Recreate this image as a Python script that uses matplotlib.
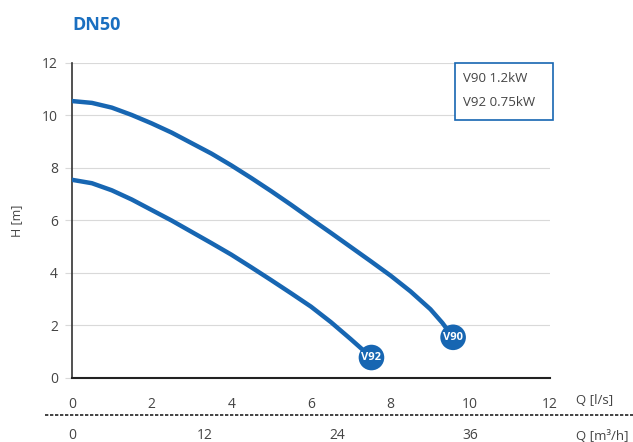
import matplotlib
matplotlib.use("Agg")
from matplotlib import pyplot as plt
from matplotlib.lines import Line2D
from matplotlib.patches import Rectangle

plt.rcParams['font.family'] = ['Open Sans', 'DejaVu Sans']

# pump curves, Q in l/s, H in m
v90_q = [0, 0.5, 1, 1.5, 2, 2.5, 3, 3.5, 4, 4.5, 5, 5.5, 6, 6.5, 7, 7.5, 8, 8.5, 9, 9.3, 9.57]
v90_h = [10.55, 10.48, 10.3, 10.02, 9.7, 9.35, 8.95, 8.55, 8.1, 7.62, 7.12, 6.6,
         6.06, 5.53, 4.99, 4.45, 3.9, 3.3, 2.62, 2.1, 1.55]
v92_q = [0, 0.5, 1, 1.5, 2, 2.5, 3, 3.5, 4, 4.5, 5, 5.5, 6, 6.5, 7, 7.52]
v92_h = [7.55, 7.42, 7.15, 6.8, 6.4, 6.0, 5.57, 5.14, 4.7, 4.22, 3.73, 3.23,
         2.72, 2.13, 1.48, 0.78]

series = [("V90", v90_q, v90_h), ("V92", v92_q, v92_h)]
legend_lines = ["V90 1.2kW", "V92 0.75kW"]
q_ls_ticks = [0, 2, 4, 6, 8, 10, 12]
q_m3h_ticks = [0, 12, 24, 36]
h_ticks = [0, 2, 4, 6, 8, 10, 12]

blue = '#1766b2'
text_col = '#444444'

fig = plt.figure(figsize=(6.33, 4.42), dpi=100)
ax = fig.add_axes([0.1137, 0.1448, 0.755, 0.7127])

for name, q, h in series:
    ax.plot(q, h, color=blue, lw=3.2, solid_capstyle='round',
            solid_joinstyle='round', zorder=3)
    ax.scatter([q[-1]], [h[-1]], s=340, color=blue, zorder=4, edgecolors='none')
    ax.text(q[-1], h[-1], name, color='white', fontsize=8, fontweight='bold',
            ha='center', va='center', zorder=5)

ax.set_xlim(0, 12)
ax.set_ylim(0, 12)
ax.set_xticks(q_ls_ticks)
ax.set_yticks(h_ticks)
ax.grid(axis='y', color='#d9d9d9', lw=0.8)
ax.set_axisbelow(True)
for s in ['top', 'right']:
    ax.spines[s].set_visible(False)
ax.spines['left'].set_color('#333333')
ax.spines['bottom'].set_color('#222222')
ax.spines['left'].set_linewidth(1.2)
ax.spines['bottom'].set_linewidth(1.5)
ax.tick_params(axis='x', length=0, pad=14, labelsize=10, labelcolor=text_col)
ax.tick_params(axis='y', length=5, width=0.8, color='#d9d9d9', pad=5,
               labelsize=10, labelcolor=text_col)
ax.set_ylabel("H [m]", fontsize=9, color=text_col, labelpad=14)

# second flow scale in m3/h
sec = ax.secondary_xaxis(-0.16, functions=(lambda x: x * 3.6, lambda x: x / 3.6))
sec.set_xticks(q_m3h_ticks)
sec.spines['bottom'].set_visible(False)
sec.tick_params(length=0, pad=0, labelsize=10, labelcolor=text_col)

ax.text(1.055, -0.07, "Q [l/s]", transform=ax.transAxes, fontsize=9.5,
        color=text_col, ha='left', va='center')
ax.text(1.055, -0.185, "Q [m³/h]", transform=ax.transAxes, fontsize=9.5,
        color=text_col, ha='left', va='center')

fig.add_artist(Line2D([0.071, 1.0], [1 - 415 / 442, 1 - 415 / 442],
                      transform=fig.transFigure, color='#222222', lw=1.2,
                      linestyle=(0, (2, 1))))

ax.text(0.0, 1.12, "DN50", transform=ax.transAxes, fontsize=13,
        fontweight='bold', color='#1a6fc0', ha='left', va='center')

# legend box
ax.add_patch(Rectangle((0.801, 0.819), 0.205, 0.181, transform=ax.transAxes,
                       fc='white', ec=blue, lw=1.2, zorder=6, clip_on=False))
ax.text(0.818, 0.952, legend_lines[0], transform=ax.transAxes, fontsize=9.5,
        color=text_col, ha='left', va='center', zorder=7)
ax.text(0.818, 0.873, legend_lines[1], transform=ax.transAxes, fontsize=9.5,
        color=text_col, ha='left', va='center', zorder=7)

fig.savefig("out.png", dpi=100)
